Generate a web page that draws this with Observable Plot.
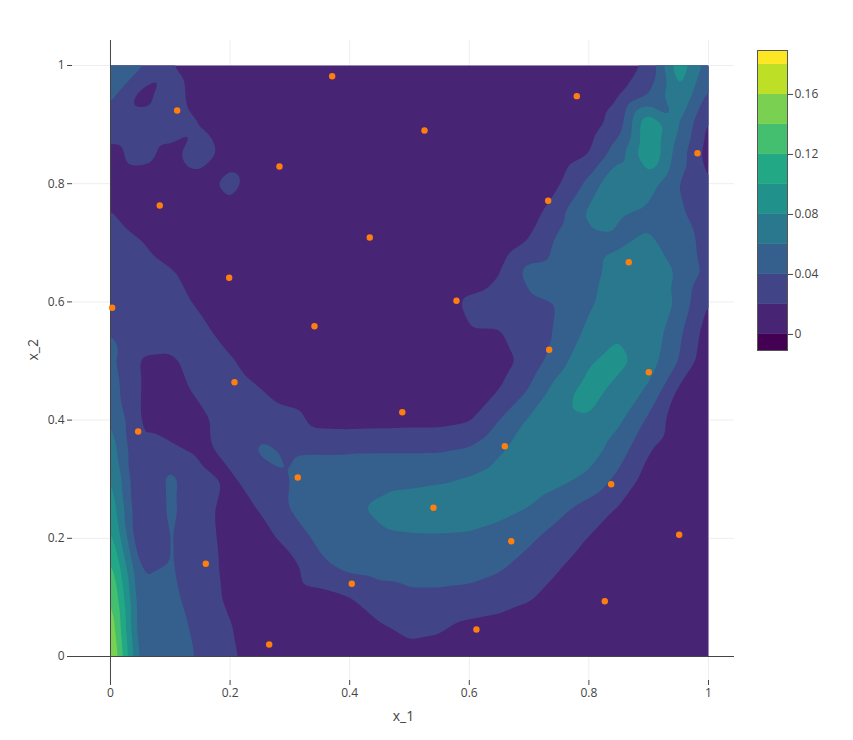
<!DOCTYPE html>
<html>
<head>
<meta charset="utf-8">
<script src="https://cdn.jsdelivr.net/npm/d3@7"></script>
<script src="https://cdn.jsdelivr.net/npm/@observablehq/plot@0.6"></script>
<style>
  body { margin: 0; background: #fff; }
  #wrap { position: relative; width: 853px; height: 740px; }
  #cbar { position: absolute; left: 755px; top: 48px; width: 112px; height: 304px; }
  #wrap svg { max-width: none; }
</style>
</head>
<body>
<div id="wrap"><div id="main"></div><div id="cbar"></div></div>
<script>
// sample positions of the estimated surface
const gridX = [0,0.05,0.1,0.15,0.2,0.25,0.3,0.35,0.4,0.45,0.5,0.55,0.6,0.65,0.7,0.75,0.8,0.85,0.9,0.95,1];
const gridY = [1,0.95,0.9,0.85,0.8,0.75,0.7,0.65,0.6,0.55,0.5,0.45,0.4,0.35,0.3,0.25,0.2,0.15,0.1,0.05,0]; // rows of zGrid, top to bottom
// estimated surface values (rows follow gridY, columns follow gridX)
const zGrid = [
  [0.048,0.044,0.021,0.012,0.008,0.006,0.006,0.006,0.006,0.006,0.006,0.006,0.006,0.006,0.006,0.006,0.007,0.010,0.024,0.095,0.050],
  [0.046,0.014,0.028,0.012,0.008,0.006,0.005,0.005,0.005,0.005,0.005,0.005,0.005,0.005,0.005,0.006,0.008,0.018,0.040,0.080,0.035],
  [0.030,0.028,0.030,0.020,0.008,0.006,0.005,0.005,0.005,0.005,0.005,0.005,0.005,0.005,0.005,0.006,0.010,0.030,0.100,0.062,0.015],
  [0.015,0.026,0.015,0.030,0.012,0.006,0.005,0.005,0.005,0.005,0.005,0.005,0.005,0.005,0.005,0.008,0.019,0.052,0.100,0.050,0.010],
  [0.012,0.010,0.008,0.012,0.027,0.008,0.005,0.005,0.005,0.005,0.005,0.005,0.005,0.005,0.006,0.018,0.045,0.083,0.070,0.040,0.019],
  [0.021,0.010,0.008,0.008,0.014,0.007,0.005,0.005,0.005,0.005,0.005,0.005,0.005,0.005,0.010,0.035,0.065,0.061,0.055,0.043,0.030],
  [0.030,0.021,0.010,0.007,0.007,0.006,0.005,0.005,0.005,0.005,0.005,0.005,0.005,0.007,0.022,0.045,0.055,0.058,0.064,0.050,0.033],
  [0.032,0.030,0.022,0.012,0.007,0.006,0.005,0.005,0.005,0.005,0.005,0.005,0.006,0.019,0.048,0.050,0.055,0.066,0.072,0.058,0.034],
  [0.037,0.032,0.027,0.017,0.008,0.006,0.005,0.005,0.005,0.005,0.005,0.010,0.024,0.030,0.037,0.041,0.057,0.070,0.083,0.055,0.018],
  [0.040,0.030,0.028,0.025,0.012,0.006,0.005,0.005,0.005,0.005,0.005,0.007,0.019,0.019,0.030,0.043,0.065,0.078,0.075,0.045,0.010],
  [0.045,0.018,0.017,0.027,0.022,0.010,0.006,0.005,0.005,0.005,0.005,0.005,0.006,0.010,0.028,0.052,0.078,0.086,0.070,0.040,0.005],
  [0.050,0.019,0.012,0.024,0.030,0.021,0.010,0.006,0.005,0.005,0.005,0.005,0.008,0.020,0.041,0.070,0.089,0.072,0.057,0.016,0.004],
  [0.062,0.019,0.010,0.015,0.030,0.033,0.028,0.013,0.012,0.013,0.014,0.014,0.018,0.040,0.063,0.075,0.078,0.064,0.036,0.008,0.004],
  [0.072,0.019,0.024,0.015,0.026,0.043,0.038,0.038,0.038,0.038,0.038,0.038,0.042,0.057,0.070,0.078,0.070,0.050,0.021,0.007,0.003],
  [0.085,0.018,0.045,0.025,0.017,0.030,0.040,0.050,0.052,0.055,0.056,0.058,0.062,0.070,0.075,0.066,0.055,0.035,0.012,0.005,0.003],
  [0.095,0.020,0.044,0.028,0.012,0.021,0.041,0.050,0.057,0.063,0.068,0.070,0.070,0.066,0.059,0.045,0.032,0.018,0.008,0.004,0.003],
  [0.110,0.021,0.042,0.030,0.012,0.012,0.027,0.045,0.052,0.057,0.058,0.058,0.057,0.052,0.043,0.032,0.019,0.008,0.005,0.004,0.003],
  [0.130,0.038,0.042,0.030,0.014,0.010,0.012,0.035,0.045,0.048,0.048,0.048,0.046,0.042,0.033,0.021,0.009,0.006,0.005,0.004,0.003],
  [0.145,0.045,0.045,0.030,0.016,0.010,0.010,0.013,0.019,0.030,0.036,0.036,0.035,0.030,0.022,0.012,0.007,0.005,0.004,0.004,0.003],
  [0.158,0.045,0.048,0.035,0.021,0.010,0.008,0.010,0.014,0.018,0.024,0.022,0.015,0.012,0.010,0.007,0.005,0.004,0.004,0.003,0.003],
  [0.168,0.052,0.048,0.038,0.024,0.009,0.007,0.008,0.010,0.013,0.015,0.014,0.011,0.009,0.007,0.006,0.005,0.004,0.003,0.003,0.003]
];
// sampled points (orange markers)
const pointX = [0.3707,0.1115,0.7798,0.5251,0.9816,0.2826,0.0824,0.7319,0.4336,0.1985,0.8667,0.0028,0.5786,0.3411,0.7336,0.2074,0.9002,0.4880,0.0463,0.6594,0.3132,0.8373,0.5401,0.9510,0.6701,0.1594,0.4035,0.8266,0.6120,0.2654];
const pointY = [0.9819,0.9239,0.9481,0.8900,0.8516,0.8291,0.7631,0.7711,0.7090,0.6408,0.6672,0.5900,0.6019,0.5589,0.5190,0.4641,0.4810,0.4134,0.3807,0.3558,0.3029,0.2915,0.2516,0.2059,0.1951,0.1569,0.1230,0.0936,0.0457,0.0203];
// contour levels and colour bar
const levels = [0, 0.02, 0.04, 0.06, 0.08, 0.1, 0.12, 0.14, 0.16, 0.18];
const cbLow  = [-0.0107, 0, 0.02, 0.04, 0.06, 0.08, 0.1, 0.12, 0.14, 0.16, 0.18];
const cbHigh = [0, 0.02, 0.04, 0.06, 0.08, 0.1, 0.12, 0.14, 0.16, 0.18, 0.1893];
const cbTicks = [0, 0.04, 0.08, 0.12, 0.16];
const axisTicks = [0, 0.2, 0.4, 0.6, 0.8, 1];

const bandColors = d3.range(11).map(k => d3.interpolateViridis(k / 10));
const colorOpts = {type: "threshold", domain: levels, range: bandColors};

const cells = [];
zGrid.forEach((row, j) => row.forEach((v, i) => cells.push({x: gridX[i], y: gridY[j], v})));
const points = pointX.map((x, k) => ({x, y: pointY[k]}));

const fmt = d3.format("~g");
const font = "'Open Sans', 'Liberation Sans', sans-serif";

const main = Plot.plot({
  width: 853, height: 740,
  marginLeft: 72, marginRight: 119, marginTop: 40, marginBottom: 60,
  x: {domain: [-0.0635, 1.0435]},
  y: {domain: [-0.0406, 1.0423]},
  color: colorOpts,
  style: {fontFamily: font, fontSize: "12px", color: "#444", background: "transparent"},
  marks: [
    Plot.gridX(axisTicks.slice(1), {stroke: "#eee", strokeOpacity: 1, strokeWidth: 1}),
    Plot.gridY(axisTicks.slice(1), {stroke: "#eee", strokeOpacity: 1, strokeWidth: 1}),
    Plot.contour(cells, {
      x: "x", y: "y", value: "v", fill: "value",
      thresholds: levels, interpolate: "barycentric",
      x1: 0, y1: 0, x2: 1, y2: 1, pixelSize: 1, blur: 4
    }),
    Plot.ruleX([0], {stroke: "#444", strokeWidth: 1}),
    Plot.ruleY([0], {stroke: "#444", strokeWidth: 1}),
    Plot.dot(points, {x: "x", y: "y", r: 3.2, fill: "#ff7f0e", stroke: "none"}),
    Plot.axisX(axisTicks, {tickSize: 5, tickPadding: 3, tickFormat: fmt, label: null, fontSize: 12}),
    Plot.axisY(axisTicks, {tickSize: 5, tickPadding: 3, tickFormat: fmt, label: null, fontSize: 12}),
    Plot.text(["x_1"], {frameAnchor: "bottom", dy: 40, fontSize: 14, fill: "#444"}),
    Plot.text(["x_2"], {frameAnchor: "left", dx: -39, rotate: -90, fontSize: 14, fill: "#444"})
  ]
});
document.getElementById("main").appendChild(main);

const bands = cbLow.map((lo, k) => ({lo, hi: cbHigh[k], mid: (lo + cbHigh[k]) / 2}));
const cbar = Plot.plot({
  width: 112, height: 304,
  marginLeft: 2, marginRight: 80, marginTop: 2, marginBottom: 2,
  x: {domain: [0, 1], axis: null},
  y: {domain: [-0.0107, 0.1893]},
  color: colorOpts,
  style: {fontFamily: font, fontSize: "12px", color: "#444", background: "transparent", overflow: "visible"},
  marks: [
    Plot.rect(bands, {x1: 0, x2: 1, y1: "lo", y2: "hi", fill: "mid"}),
    Plot.frame({stroke: "#555", strokeWidth: 1}),
    Plot.axisY(cbTicks, {anchor: "right", tickSize: 5, tickPadding: 2, tickFormat: fmt, label: null, fontSize: 12})
  ]
});
document.getElementById("cbar").appendChild(cbar);
</script>
</body>
</html>
